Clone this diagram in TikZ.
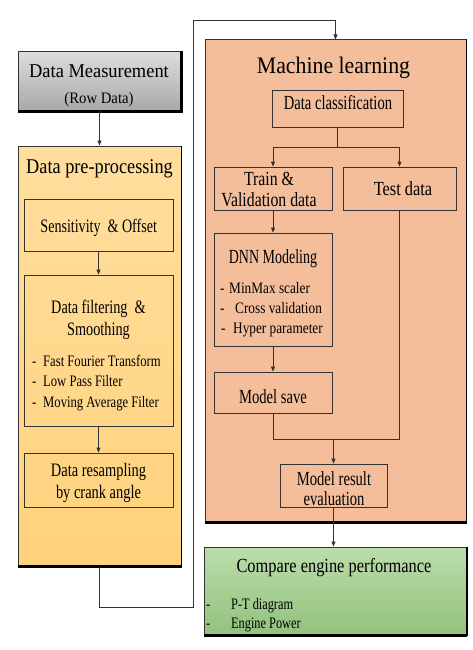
\documentclass[tikz,border=0pt]{standalone}
\usepackage{fontspec}
\setmainfont{Liberation Serif}
\newfontfamily\tms{Liberation Serif}
\usepackage{graphicx}
\usetikzlibrary{arrows.meta,calc}
\newcommand\stxt[3]{{\tms\fontsize{#2}{#2}\selectfont\scalebox{#1}[1]{#3}}}
\definecolor{gtop}{HTML}{DDDDDD}
\definecolor{gbot}{HTML}{A8A8A8}
\definecolor{otop}{HTML}{FFDE9E}
\definecolor{obot}{HTML}{FFD27C}
\definecolor{salmon}{HTML}{F5BE9B}
\definecolor{grtop}{HTML}{BBDCAC}
\definecolor{grbot}{HTML}{93C27C}
\definecolor{linec}{HTML}{333333}
\begin{document}
\begin{tikzpicture}[x=1pt,y=-1pt,
  outer/.style={draw=linec,line width=1pt,inner sep=0pt,rectangle},
  box/.style={draw=linec,line width=0.8pt,inner sep=0pt,rectangle},
  txt/.style={inner sep=0pt,anchor=base},
  ltxt/.style={inner sep=0pt,anchor=base west},
  shadowline/.style={line width=2.2pt,black},
  conn/.style={draw=linec,line width=0.8pt},
  arr/.style={conn,-{Triangle[length=5pt,width=4pt]}}
]
\useasboundingbox (0,0) rectangle (473,650);

% ---------- containers ----------
\node[outer,minimum width=163pt,minimum height=59pt,top color=gtop,bottom color=gbot] (dm) at (99.5,81.5) {};
\node[outer,minimum width=163pt,minimum height=420pt,top color=otop,bottom color=obot] (pp) at (99.5,356) {};
\node[outer,minimum width=261pt,minimum height=482pt,fill=salmon] (ml) at (335.5,281) {};
\node[outer,minimum width=262pt,minimum height=88pt,top color=grtop,bottom color=grbot] (cp) at (335,591) {};

\draw[shadowline] (dm.south west) -- (dm.south east) -- (dm.north east);
\draw[shadowline] (pp.south west) -- (pp.south east);
\draw[line width=1.4pt] (pp.south east) -- (pp.north east);
\draw[line width=3pt] (ml.south west) -- (ml.south east);
\draw[line width=1.6pt] (ml.south east) -- (ml.north east);
\draw[line width=2.6pt] (cp.south west) -- (cp.south east);
\draw[line width=2pt] (cp.south east) -- (cp.north east);

% ---------- inner boxes ----------
\node[box,minimum width=149pt,minimum height=52pt] (sens) at (98.5,225) {};
\node[box,minimum width=149pt,minimum height=151pt] (filt) at (98.5,350.5) {};
\node[box,minimum width=149pt,minimum height=54pt] (res) at (98.5,480) {};

\node[box,minimum width=131pt,minimum height=37pt] (dc) at (337.5,108.5) {};
\node[box,minimum width=118pt,minimum height=43pt] (tr) at (273,188.5) {};
\node[box,minimum width=113pt,minimum height=43pt] (te) at (399.5,188.5) {};
\node[box,minimum width=118pt,minimum height=113pt] (dnn) at (273,289.5) {};
\node[box,minimum width=118pt,minimum height=41pt] (sv) at (273,392.5) {};
\node[box,minimum width=107pt,minimum height=43pt] (mr) at (333.5,485.5) {};

% ---------- texts ----------
\node[txt] (t1) at (99,78) {\stxt{0.94}{19.6}{Data Measurement}};
\node[txt] (t2) at (99,103) {\stxt{0.92}{16}{(Row Data)}};
\node[txt] (t3) at (99.5,173) {\stxt{0.87}{21}{Data pre-processing}};
\node[txt] (t4) at (98.7,232) {\stxt{0.74}{19}{Sensitivity \ \& Offset}};
\node[txt] (t5) at (98.5,313) {\stxt{0.75}{19}{Data filtering \ \&}};
\node[txt] (t6) at (98.5,335) {\stxt{0.75}{19}{Smoothing}};
\node[ltxt] (d1) at (32,366.7) {\stxt{0.79}{16}{-}};
\node[ltxt] (b1) at (43,366.7) {\stxt{0.79}{16}{Fast Fourier Transform}};
\node[ltxt] (d2) at (32,386.7) {\stxt{0.79}{16}{-}};
\node[ltxt] (b2) at (43,386.7) {\stxt{0.79}{16}{Low Pass Filter}};
\node[ltxt] (d3) at (32,407) {\stxt{0.79}{16}{-}};
\node[ltxt] (b3) at (43,407) {\stxt{0.79}{16}{Moving Average Filter}};
\node[txt] (t7) at (98.5,476.7) {\stxt{0.76}{19}{Data resampling}};
\node[txt] (t8) at (98.5,498) {\stxt{0.76}{19}{by crank angle}};

\node[txt] (t9) at (333.5,74) {\stxt{0.92}{23.7}{Machine learning}};
\node[txt] (t10) at (338,110) {\stxt{0.73}{20}{Data classification}};
\node[txt] (t11) at (269,185) {\stxt{0.79}{20}{Train \&}};
\node[txt] (t12) at (269,206.7) {\stxt{0.79}{20}{Validation data}};
\node[txt] (t13) at (403,195) {\stxt{0.82}{20}{Test data}};
\node[txt] (t14) at (273,263) {\stxt{0.70}{20}{DNN Modeling}};
\node[ltxt] (d4) at (220,293) {\stxt{0.83}{16}{-}};
\node[ltxt] (b4) at (229,293) {\stxt{0.83}{16}{MinMax scaler}};
\node[ltxt] (d5) at (220,313) {\stxt{0.83}{16}{-}};
\node[ltxt] (b5) at (235,313) {\stxt{0.83}{16}{Cross validation}};
\node[ltxt] (d6) at (221,333) {\stxt{0.83}{16}{-}};
\node[ltxt] (b6) at (233,333) {\stxt{0.83}{16}{Hyper parameter}};
\node[txt] (t15) at (273,403) {\stxt{0.73}{20}{Model save}};
\node[txt] (t16) at (334,485) {\stxt{0.73}{20}{Model result}};
\node[txt] (t17) at (334,505) {\stxt{0.73}{20}{evaluation}};

\node[txt] (t18) at (334,572) {\stxt{0.82}{20}{Compare engine performance}};
\node[ltxt] (d7) at (206,609) {\stxt{0.77}{16}{-}};
\node[ltxt] (b7) at (231,609) {\stxt{0.77}{16}{P-T diagram}};
\node[ltxt] (d8) at (206,628) {\stxt{0.77}{16}{-}};
\node[ltxt] (b8) at (231,628) {\stxt{0.77}{16}{Engine Power}};

% ---------- connectors ----------
\coordinate (c1) at (193,607);
\coordinate (c2) at (193,20);
\coordinate (split) at (337.5,147);
\coordinate (join) at (333.5,439);

\draw[arr] (dm.south) -- (pp.north);
\draw[arr] (sens.south) -- (filt.north);
\draw[arr] (filt.south) -- (res.north);
\draw[arr] (pp.south) |- (c1) -- (c2) -| (ml.north);

\draw[conn] (dc.south) -- (split);
\draw[arr] (split) -| (tr.north);
\draw[arr] (split) -| (te.north);
\draw[arr] (tr.south) -- (dnn.north);
\draw[arr] (dnn.south) -- (sv.north);
\draw[conn] (sv.south) |- (join);
\draw[conn] (te.south) |- (join);
\draw[arr] (join) -- (mr.north);
\draw[arr] (mr.south) -- (mr.south |- cp.north);
\end{tikzpicture}
\end{document}
